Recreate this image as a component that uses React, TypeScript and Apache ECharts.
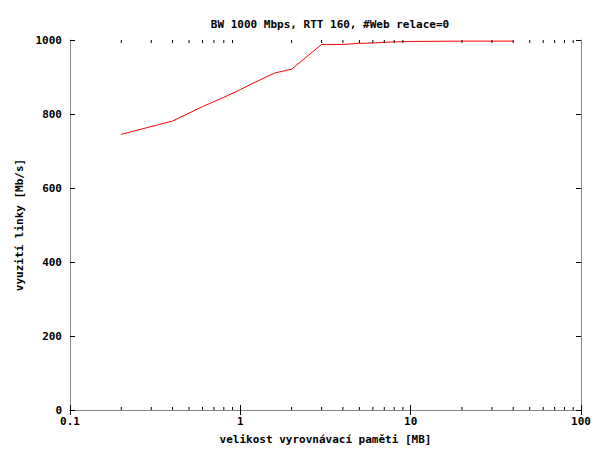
import React, { useEffect, useRef } from "react";
import * as echarts from "echarts";

// Buffer size [MB] vs. link utilisation [Mb/s]
const bufferSizes = [0.2, 0.4, 0.6, 0.8, 1, 1.2, 1.4, 1.6, 2, 3, 4, 5, 6, 8, 10, 20, 40];
const utilisation = [745, 781, 820, 845, 866, 884, 899, 911, 921, 988, 988, 991, 992, 995, 996, 997, 997];

const xTickLabels = ["0.1", "1", "10", "100"];
const yTicks = [0, 200, 400, 600, 800, 1000];
// Minor ticks of the log axis (2..9 within each decade)
const xMinorTicks = [
  0.2, 0.3, 0.4, 0.5, 0.6, 0.7, 0.8, 0.9,
  2, 3, 4, 5, 6, 7, 8, 9,
  20, 30, 40, 50, 60, 70, 80, 90,
];

const titleText = "BW 1000 Mbps, RTT 160, #Web relace=0";
const xName = "velikost vyrovnávací paměti [MB]";
const yName = "vyuzití linky [Mb/s]";

const FONT = "'DejaVu Sans Mono', monospace";
const BORDER = "#8a8a8a";

export default function App() {
  const ref = useRef<HTMLDivElement>(null);

  useEffect(() => {
    if (!ref.current) return;
    document.body.style.margin = "0";
    document.body.style.overflow = "hidden";
    const chart = echarts.init(ref.current, null, { renderer: "svg" });

    const textStyle = { fontFamily: FONT, fontWeight: "bold" as const, fontSize: 11, color: "#000" };
    const yMin = yTicks[0];
    const yMax = yTicks[yTicks.length - 1];

    const xCommon = {
      type: "log" as const,
      logBase: 10,
      min: 0.1,
      max: 100,
      axisLine: { show: true, lineStyle: { color: BORDER, width: 1 } },
      axisTick: { show: true, inside: true, length: 5, lineStyle: { color: "#000", width: 1 } },
      splitLine: { show: false },
      minorTick: { show: false },
    };
    const yCommon = {
      type: "value" as const,
      min: yMin,
      max: yMax,
      interval: 200,
      axisLine: { show: true, lineStyle: { color: BORDER, width: 1 } },
      axisTick: { show: true, inside: true, length: 5, lineStyle: { color: "#000", width: 1 } },
      splitLine: { show: false },
    };

    chart.setOption({
      animation: false,
      backgroundColor: "#fff",
      title: {
        text: titleText,
        left: 325,
        top: 14,
        textAlign: "center",
        textStyle: { ...textStyle },
      },
      grid: { left: 70, right: 15, top: 40, bottom: 37, containLabel: false },
      xAxis: [
        {
          ...xCommon,
          position: "bottom",
          name: xName,
          nameLocation: "middle",
          nameGap: 24,
          nameTextStyle: { ...textStyle },
          axisLabel: {
            ...textStyle,
            margin: 6,
            formatter: (v: number) => xTickLabels[Math.round(Math.log10(v)) + 1] ?? "",
          },
        },
        {
          ...xCommon,
          position: "top",
          axisLabel: { show: false },
        },
      ],
      yAxis: [
        {
          ...yCommon,
          position: "left",
          name: yName,
          nameLocation: "middle",
          nameGap: 44,
          nameTextStyle: { ...textStyle },
          axisLabel: { ...textStyle, margin: 8, formatter: (v: number) => String(v) },
        },
        {
          ...yCommon,
          position: "right",
          axisLabel: { show: false },
        },
      ],
      series: [
        {
          type: "line",
          xAxisIndex: 0,
          yAxisIndex: 0,
          data: bufferSizes.map((x, i) => [x, utilisation[i]]),
          showSymbol: false,
          symbol: "none",
          lineStyle: { color: "#ff0000", width: 1 },
          itemStyle: { color: "#ff0000" },
          z: 3,
        },
        {
          type: "custom",
          xAxisIndex: 0,
          yAxisIndex: 0,
          silent: true,
          clip: false,
          z: 4,
          data: xMinorTicks.map((x) => [x, yMin]),
          renderItem: (_params: any, api: any) => {
            const x = api.value(0);
            const b = api.coord([x, yMin]);
            const t = api.coord([x, yMax]);
            const style = { stroke: "#000", lineWidth: 1 };
            return {
              type: "group",
              children: [
                { type: "line", shape: { x1: b[0], y1: b[1], x2: b[0], y2: b[1] - 3 }, style },
                { type: "line", shape: { x1: t[0], y1: t[1], x2: t[0], y2: t[1] + 3 }, style },
              ],
            };
          },
        },
      ],
    });

    return () => chart.dispose();
  }, []);

  return (
    <div
      ref={ref}
      style={{ position: "fixed", left: 0, top: 0, width: 596, height: 450 }}
    />
  );
}
